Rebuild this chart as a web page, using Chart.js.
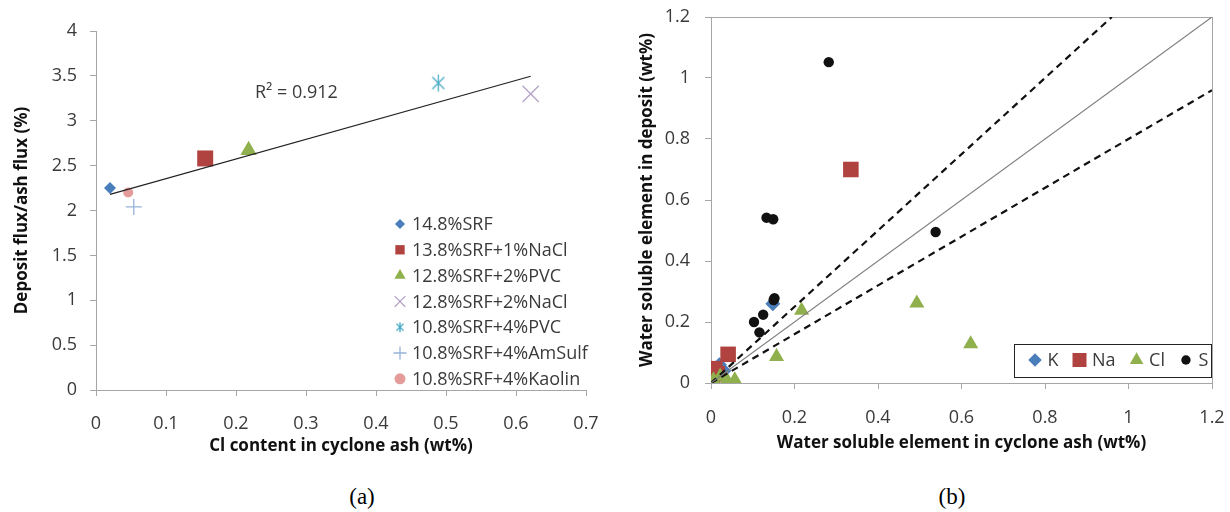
<!DOCTYPE html>
<html>
<head>
<meta charset="utf-8">
<script src="https://cdn.jsdelivr.net/npm/chart.js@4.4.1/dist/chart.umd.min.js"></script>
<style>
  body { margin: 0; background: #fff; width: 1230px; height: 512px; position: relative; overflow: hidden; }
  canvas { position: absolute; top: 0; }
  #chartA { left: 0; }
  #chartB { left: 610px; }
  .cap { position: absolute; top: 484px; font-family: "Liberation Serif", "Times New Roman", serif; font-size: 23px; color: #000; transform: translateX(-50%); }
</style>
</head>
<body>
<canvas id="chartA" width="610" height="470"></canvas>
<canvas id="chartB" width="620" height="470"></canvas>
<div class="cap" style="left:362px">(a)</div>
<div class="cap" style="left:952px">(b)</div>
<script>
const FONT = "'Open Sans', sans-serif"
const AXIS_COLOR = "#a6a6a6"
const TICK_TEXT = "#3a3a3a"

// ---- (a) deposit flux vs Cl in cyclone ash
const mixLabels = [
  "14.8%SRF",
  "13.8%SRF+1%NaCl",
  "12.8%SRF+2%PVC",
  "12.8%SRF+2%NaCl",
  "10.8%SRF+4%PVC",
  "10.8%SRF+4%AmSulf",
  "10.8%SRF+4%Kaolin",
]
const clAsh = [0.020, 0.156, 0.218, 0.621, 0.489, 0.054, 0.046]
const fluxRatio = [2.25, 2.58, 2.67, 3.30, 3.42, 2.04, 2.20]
const xTicksA = [0, 0.1, 0.2, 0.3, 0.4, 0.5, 0.6, 0.7]
const yTicksA = [0, 0.5, 1, 1.5, 2, 2.5, 3, 3.5, 4]
const r2Label = "R² = 0.912"

// ---- (b) water soluble element, deposit vs cyclone ash
const elementLabels = ["K", "Na", "Cl", "S"]
const kAsh = [0.148, 0.031, 0.020]
const kDep = [0.260, 0.040, 0.060]
const naAsh = [0.335, 0.041, 0.009, 0.003, 0.015]
const naDep = [0.700, 0.094, 0.047, 0.020, 0.030]
const clAshB = [0.493, 0.622, 0.217, 0.157, 0.006, 0.022, 0.038, 0.057]
const clDep = [0.262, 0.128, 0.238, 0.086, 0.010, 0.022, 0.010, 0.010]
const sAsh = [0.282, 0.133, 0.149, 0.152, 0.150, 0.125, 0.103, 0.116, 0.538]
const sDep = [1.052, 0.542, 0.537, 0.278, 0.272, 0.224, 0.200, 0.166, 0.495]
const ratioLines = [1, 1.25, 0.8]
const ticksB = [0, 0.2, 0.4, 0.6, 0.8, 1, 1.2]

const toPoints = (xs, ys) => xs.map((x, i) => ({ x, y: ys[i] }))

function linearFit(xs, ys) {
  const n = xs.length
  const mx = xs.reduce((a, b) => a + b, 0) / n
  const my = ys.reduce((a, b) => a + b, 0) / n
  let sxy = 0, sxx = 0
  xs.forEach((x, i) => { sxy += (x - mx) * (ys[i] - my); sxx += (x - mx) ** 2 })
  const slope = sxy / sxx
  return { slope, intercept: my - slope * mx }
}

function asterisk(size, color) {
  const c = document.createElement("canvas")
  c.width = size; c.height = size
  const g = c.getContext("2d")
  const h = size / 2, r = h - 1
  g.strokeStyle = color
  g.lineWidth = 1.3
  g.beginPath()
  g.moveTo(h, h - r); g.lineTo(h, h + r)
  const a = Math.PI / 4
  g.moveTo(h - r * Math.cos(a), h - r * Math.sin(a)); g.lineTo(h + r * Math.cos(a), h + r * Math.sin(a))
  g.moveTo(h - r * Math.cos(a), h + r * Math.sin(a)); g.lineTo(h + r * Math.cos(a), h - r * Math.sin(a))
  g.stroke()
  return c
}

// marker looks, in series order
const mixStyles = [
  { style: "rectRot", color: "#4a7ebb", r: 6, lr: 5 },
  { style: "rect", color: "#b0433f", r: 11.3, lr: 6.6 },
  { style: "triangle", color: "#8fb04c", r: 9.5, lr: 6.5 },
  { style: "crossRot", color: "#b3a2c7", r: 11.5, lr: 7.5, line: 1.3 },
  { style: asterisk(19, "#4bacc6"), legend: asterisk(12, "#4bacc6"), color: "#4bacc6", r: 9, lr: 6, line: 1.3 },
  { style: "cross", color: "#95b3d7", r: 8, lr: 6.5, line: 1.3 },
  { style: "circle", color: "#e39c9a", r: 5, lr: 5.5 },
]

const fitA = linearFit(clAsh, fluxRatio)
const fitXs = [Math.min(...clAsh), Math.max(...clAsh)]

const fixedTicks = arr => scale => { scale.ticks = arr.map(v => ({ value: v })) }

function axis(min, max, tickArr, title, isX, size, tickPad, titlePad) {
  return {
    type: "linear",
    min, max,
    afterBuildTicks: fixedTicks(tickArr),
    afterFit: s => {
      if (isX) s.height = size; else s.width = size
      // keep the plot box where we put it, labels may overhang
      s.paddingLeft = s.paddingRight = s.paddingTop = s.paddingBottom = 0
    },
    grid: { display: true, drawOnChartArea: false, drawTicks: true, tickLength: 6, color: AXIS_COLOR },
    border: { display: true, color: AXIS_COLOR, width: 1 },
    ticks: { color: TICK_TEXT, font: { family: FONT, size: 18 }, padding: tickPad, callback: v => String(v) },
    title: { display: true, text: title, color: "#111", font: { family: FONT, size: 17, weight: "bold" }, padding: titlePad },
  }
}

const legendA = {
  id: "legendA",
  afterDatasetsDraw(chart) {
    const { ctx, chartArea } = chart
    ctx.save()
    ctx.font = `18px ${FONT}`
    ctx.textBaseline = "middle"
    mixLabels.forEach((label, i) => {
      const st = mixStyles[i]
      const x = chartArea.left + 304
      const y = chartArea.top + 193 + i * 25.8
      ctx.fillStyle = st.color
      ctx.strokeStyle = st.color
      ctx.lineWidth = st.line || 1
      Chart.helpers.drawPoint(ctx, { pointStyle: st.legend || st.style, radius: st.lr, borderWidth: st.line || 0, rotation: 0 }, x, y)
      ctx.fillStyle = TICK_TEXT
      ctx.fillText(label, x + 12, y + 1)
    })
    ctx.fillStyle = TICK_TEXT
    ctx.fillText(r2Label, chartArea.left + 159, chartArea.top + 62)
    ctx.restore()
  },
}

new Chart(document.getElementById("chartA"), {
  type: "scatter",
  data: {
    datasets: [
      {
        type: "line",
        label: "trend",
        data: fitXs.map(x => ({ x, y: fitA.intercept + fitA.slope * x })),
        borderColor: "#222",
        borderWidth: 1.2,
        pointRadius: 0,
        order: 0,
      },
      ...mixLabels.map((label, i) => ({
        label,
        data: [{ x: clAsh[i], y: fluxRatio[i] }],
        pointStyle: mixStyles[i].style,
        pointRadius: mixStyles[i].r,
        backgroundColor: mixStyles[i].color,
        borderColor: mixStyles[i].color,
        borderWidth: mixStyles[i].line || 0,
        order: 1,
      })),
    ],
  },
  options: {
    responsive: false,
    animation: false,
    devicePixelRatio: 1,
    layout: { padding: { left: 0, top: 31, right: 24, bottom: 0 } },
    plugins: { legend: { display: false }, tooltip: { enabled: false } },
    scales: {
      x: axis(0, 0.7, xTicksA, "Cl content in cyclone ash (wt%)", true, 80, 17, { top: 0, bottom: 14 }),
      y: axis(0, 4, yTicksA, "Deposit flux/ash flux (%)", false, 96, 13, { top: 12, bottom: 0 }),
    },
  },
  plugins: [legendA],
})

// ---- chart (b)
const elementStyles = [
  { style: "rectRot", color: "#4a7ebb", r: 7.5 },
  { style: "rect", color: "#b0433f", r: 11 },
  { style: "triangle", color: "#8fb04c", r: 8.7 },
  { style: "circle", color: "#111", r: 5.2 },
]
const elementData = [toPoints(kAsh, kDep), toPoints(naAsh, naDep), toPoints(clAshB, clDep), toPoints(sAsh, sDep)]

const frameAndLegendB = {
  id: "frameAndLegendB",
  beforeDatasetsDraw(chart) {
    const { ctx, chartArea: a } = chart
    ctx.save()
    ctx.strokeStyle = AXIS_COLOR
    ctx.lineWidth = 1
    ctx.strokeRect(Math.round(a.left) + 0.5, Math.round(a.top) + 0.5, Math.round(a.right - a.left), Math.round(a.bottom - a.top))
    ctx.restore()
  },
  afterDatasetsDraw(chart) {
    const { ctx, chartArea: a } = chart
    ctx.save()
    ctx.font = `18px ${FONT}`
    ctx.textBaseline = "middle"
    const boxR = a.right - 1.5, boxL = boxR - 196.5
    const boxT = a.bottom - 39.5, boxB = a.bottom - 6.5
    ctx.fillStyle = "#fff"
    ctx.fillRect(boxL, boxT, boxR - boxL, boxB - boxT)
    ctx.strokeStyle = "#222"
    ctx.lineWidth = 1
    ctx.strokeRect(Math.round(boxL) + 0.5, Math.round(boxT) + 0.5, Math.round(boxR - boxL), Math.round(boxB - boxT))
    const y = (boxT + boxB) / 2
    let x = boxL + 21
    elementLabels.forEach((label, i) => {
      const st = elementStyles[i]
      ctx.fillStyle = st.color
      Chart.helpers.drawPoint(ctx, { pointStyle: st.style, radius: st.r * 0.9, borderWidth: 0, rotation: 0 }, x, y)
      ctx.fillStyle = TICK_TEXT
      ctx.fillText(label, x + 12.5, y + 1)
      x += 12.5 + ctx.measureText(label).width + 21
    })
    ctx.restore()
  },
}

new Chart(document.getElementById("chartB"), {
  type: "scatter",
  data: {
    datasets: [
      ...ratioLines.map(k => ({
        type: "line",
        label: "ratio " + k,
        data: [{ x: 0, y: 0 }, { x: Math.min(1.2, 1.2 / k), y: Math.min(1.2, 1.2 / k) * k }],
        borderColor: k === 1 ? "#7f7f7f" : "#111",
        borderWidth: k === 1 ? 1.1 : 2.2,
        borderDash: k === 1 ? [] : [7, 5],
        pointRadius: 0,
        order: 0,
      })),
      // later series sit on top, like the source (K under Na under Cl under S)
      ...elementLabels.map((label, i) => ({
        label,
        data: elementData[i],
        pointStyle: elementStyles[i].style,
        pointRadius: elementStyles[i].r,
        backgroundColor: elementStyles[i].color,
        borderColor: elementStyles[i].color,
        borderWidth: 0,
        order: 5 - i,
      })),
    ],
  },
  options: {
    responsive: false,
    animation: false,
    devicePixelRatio: 1,
    layout: { padding: { left: 0, top: 17, right: 18, bottom: 0 } },
    plugins: { legend: { display: false }, tooltip: { enabled: false } },
    scales: {
      x: axis(0, 1.2, ticksB, "Water soluble element in cyclone ash (wt%)", true, 87, 18, { top: 0, bottom: 17 }),
      y: axis(0, 1.2, ticksB, "Water soluble element in deposit (wt%)", false, 101, 15, { top: 27, bottom: 0 }),
    },
  },
  plugins: [frameAndLegendB],
})
</script>
</body>
</html>
